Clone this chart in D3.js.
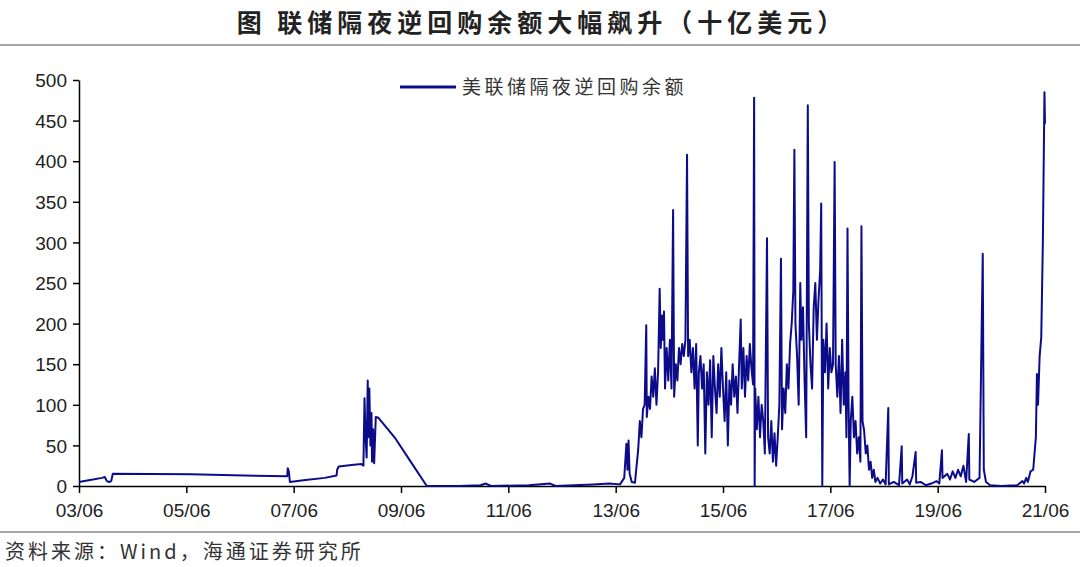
<!DOCTYPE html>
<html>
<head>
  <meta charset="utf-8">
  <script src="https://d3js.org/d3.v7.min.js"></script>
  <style>
    body { margin: 0; background: #fff; }
  </style>
</head>
<body>
<div id="chart"></div>
<script>
// decimal year and balance (bn USD)
var years = [2003.42,2003.6,2003.85,2003.9,2003.94,2003.98,2004.02,2004.05,2005.5,2006.5,2007.3,2007.31,2007.33,2007.35,2007.6,2008.0,2008.22,2008.23,2008.26,2008.5,2008.68,2008.72,2008.74,2008.76,2008.78,2008.8,2008.81,2008.83,2008.85,2008.87,2008.88,2008.9,2008.92,2008.95,2009.0,2009.3,2009.6,2009.9,2010.5,2010.9,2011.0,2011.1,2011.8,2012.2,2012.3,2013.0,2013.3,2013.5,2013.58,2013.62,2013.64,2013.66,2013.68,2013.72,2013.78,2013.8,2013.84,2013.87,2013.9,2013.93,2013.96,2013.99,2014.0,2014.03,2014.06,2014.09,2014.12,2014.15,2014.18,2014.21,2014.24,2014.26,2014.28,2014.3,2014.32,2014.34,2014.37,2014.4,2014.43,2014.46,2014.49,2014.51,2014.54,2014.57,2014.6,2014.63,2014.66,2014.69,2014.72,2014.75,2014.77,2014.8,2014.83,2014.86,2014.89,2014.92,2014.95,2014.97,2015.0,2015.03,2015.06,2015.09,2015.12,2015.15,2015.18,2015.21,2015.24,2015.27,2015.3,2015.33,2015.36,2015.39,2015.42,2015.45,2015.48,2015.51,2015.54,2015.57,2015.6,2015.63,2015.66,2015.69,2015.72,2015.75,2015.77,2015.8,2015.83,2015.86,2015.89,2015.92,2015.95,2015.98,2016.0,2016.01,2016.02,2016.05,2016.08,2016.11,2016.14,2016.17,2016.2,2016.24,2016.26,2016.29,2016.32,2016.35,2016.38,2016.41,2016.44,2016.47,2016.5,2016.52,2016.55,2016.58,2016.61,2016.64,2016.67,2016.7,2016.73,2016.75,2016.77,2016.8,2016.83,2016.86,2016.88,2016.91,2016.94,2016.97,2017.0,2017.02,2017.05,2017.08,2017.11,2017.14,2017.17,2017.2,2017.23,2017.25,2017.27,2017.29,2017.32,2017.35,2017.38,2017.41,2017.44,2017.47,2017.5,2017.52,2017.55,2017.58,2017.61,2017.64,2017.67,2017.7,2017.72,2017.74,2017.76,2017.78,2017.8,2017.83,2017.86,2017.89,2017.92,2017.95,2017.98,2018.0,2018.02,2018.05,2018.08,2018.11,2018.14,2018.17,2018.2,2018.23,2018.26,2018.3,2018.35,2018.4,2018.45,2018.5,2018.51,2018.6,2018.7,2018.75,2018.76,2018.85,2018.9,2018.95,2019.01,2019.02,2019.1,2019.2,2019.3,2019.4,2019.45,2019.5,2019.51,2019.6,2019.65,2019.7,2019.75,2019.8,2019.85,2019.9,2019.95,2020.0,2020.01,2020.1,2020.2,2020.26,2020.28,2020.32,2020.4,2020.6,2020.9,2021.0,2021.03,2021.07,2021.1,2021.15,2021.2,2021.25,2021.27,2021.29,2021.32,2021.35,2021.38,2021.41,2021.42];
var balance = [5,7,10,11,6,5,6,15,14.5,13,12,22,18,5,7,10,13,20,24,26,27,25,108,60,35,130,60,120,50,90,30,70,28,85,84,60,30,0,0,1,3,0,1,3,0,2,3,2,10,52,20,56,15,5,4,18,45,80,60,95,100,198,85,110,95,135,110,145,100,140,243,170,210,180,215,120,170,130,180,120,340,110,150,130,170,150,175,160,180,408,160,180,140,170,120,175,50,140,160,120,150,40,140,100,155,60,160,120,90,150,110,170,120,80,140,50,130,100,150,110,135,90,150,205,120,170,110,160,130,175,145,125,478,0,120,70,110,60,100,80,40,305,60,40,80,30,65,25,60,100,280,70,120,90,150,120,175,200,240,414,200,160,100,250,180,220,130,60,469,200,150,120,220,250,180,230,265,348,0,180,140,200,120,170,140,150,399,150,110,160,90,180,100,140,60,317,100,0,80,110,60,80,40,60,30,320,80,68,40,50,20,30,10,20,5,10,3,8,2,96,2,5,1,49,3,8,2,12,42,4,5,1,3,6,3,44,10,15,8,18,10,20,12,25,5,64,8,5,10,286,20,5,1,0,1,6,3,10,5,18,20,60,138,100,160,183,300,485,446];
var xTickYears = [2003, 2005, 2007, 2009, 2011, 2013, 2015, 2017, 2019, 2021];
var yTicks = [0, 50, 100, 150, 200, 250, 300, 350, 400, 450, 500];
var seriesName = "美联储隔夜逆回购余额";

var W = 1080, H = 567;
var mLeft = 79, mRight = 1045, mTop = 80, mBottom = 486;
var color = "#0c0c8a";

var svg = d3.select("#chart").append("svg").attr("width", W).attr("height", H);

svg.append("text").attr("x", W / 2 + 2).attr("y", 32).attr("text-anchor", "middle")
  .attr("font-family", "Noto Sans CJK SC").attr("font-weight", "bold").attr("font-size", 25)
  .attr("letter-spacing", 5).attr("fill", "#222").text("图  联储隔夜逆回购余额大幅飙升（十亿美元）");
svg.append("line").attr("x1", 0).attr("x2", W).attr("y1", 45).attr("y2", 45).attr("stroke", "#888").attr("stroke-width", 1.5);
svg.append("line").attr("x1", 0).attr("x2", W).attr("y1", 532).attr("y2", 532).attr("stroke", "#888").attr("stroke-width", 1.5);
svg.append("text").attr("x", 5).attr("y", 559).attr("font-family", "Noto Sans CJK SC").attr("font-size", 20)
  .attr("letter-spacing", 3).attr("fill", "#333").text("资料来源：Wind，海通证券研究所");

var x = d3.scaleLinear().domain([2003.42, 2021.42]).range([mLeft, mRight]);
var y = d3.scaleLinear().domain([0, 500]).range([mBottom, mTop]);

var xAxis = svg.append("g").attr("transform", "translate(0," + mBottom + ")")
  .call(d3.axisBottom(x).tickValues(xTickYears.map(function(d){ return d + 0.42; }))
    .tickFormat(function(d){ return d3.format("02")(Math.round(d - 0.42) % 100) + "/06"; })
    .tickSize(7).tickSizeOuter(0));
var yAxis = svg.append("g").attr("transform", "translate(" + mLeft + ",0)")
  .call(d3.axisLeft(y).tickValues(yTicks).tickSize(6).tickSizeOuter(0));
[xAxis, yAxis].forEach(function(a){
  a.selectAll("path, line").attr("stroke", "#000").attr("stroke-width", 1.5);
  a.selectAll("text").attr("font-family", "Liberation Sans").attr("font-size", 19).attr("fill", "#222");
});
xAxis.selectAll("text").attr("dy", "1.1em");
yAxis.selectAll("text").attr("x", -12).attr("dy", "0.35em");

var line = d3.line().x(function(d, i){ return x(years[i]); }).y(function(d){ return y(d); });
svg.append("path").datum(balance).attr("d", line).attr("fill", "none")
  .attr("stroke", color).attr("stroke-width", 2).attr("stroke-linejoin", "round");

svg.append("line").attr("x1", 400).attr("x2", 456).attr("y1", 87).attr("y2", 87).attr("stroke", color).attr("stroke-width", 3);
svg.append("text").attr("x", 462).attr("y", 94).attr("font-family", "Noto Sans CJK SC").attr("font-size", 19)
  .attr("letter-spacing", 3.5).attr("fill", "#333").text(seriesName);
</script>
</body>
</html>
